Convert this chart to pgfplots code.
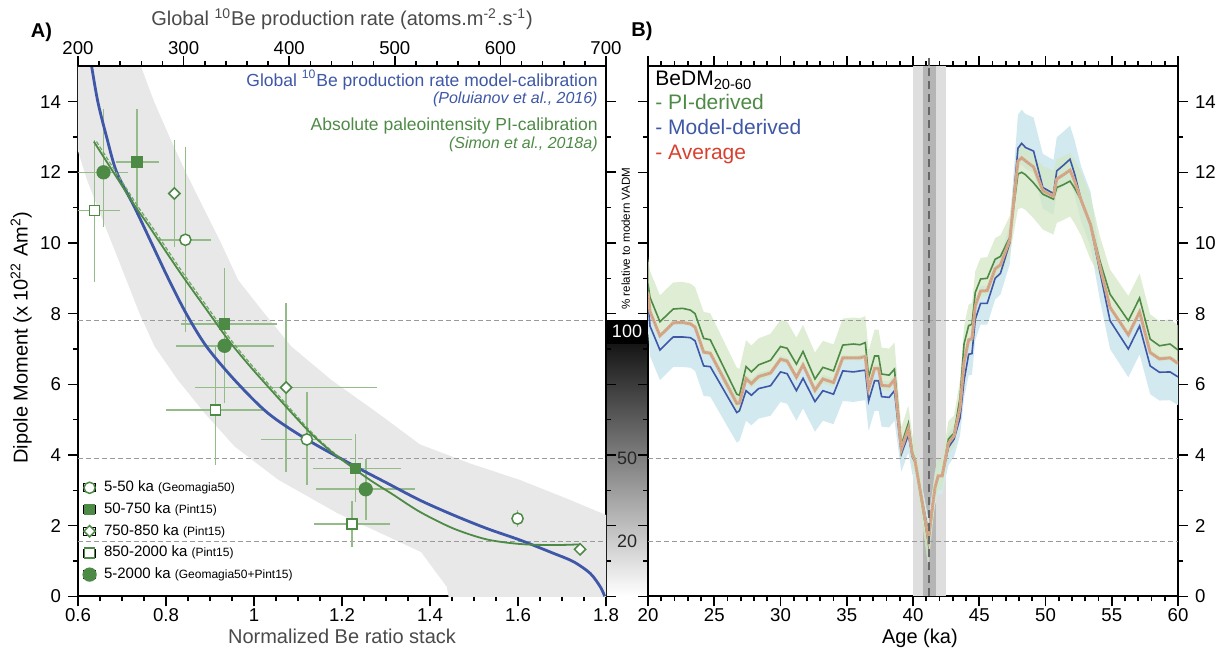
\documentclass[border=0pt]{standalone}
\usepackage{fontspec}
\setmainfont{Liberation Sans}
\usepackage{pgfplots}
\usepackage{pgfplotstable}
\pgfplotsset{compat=1.18}

\definecolor{pgreen}{HTML}{4D8A45}
\definecolor{ebgreen}{HTML}{93BC89}
\definecolor{dgreen}{HTML}{6FA865}
\definecolor{pblue}{HTML}{3E57A6}
\definecolor{bandgray}{HTML}{E8E8E8}
\definecolor{pred}{HTML}{D8402E}
\definecolor{avgtan}{HTML}{D6A88A}
\definecolor{avgdot}{HTML}{C99479}
\definecolor{gband}{HTML}{D3E7C5}
\definecolor{bband}{HTML}{D2E9EF}
\definecolor{refgray}{HTML}{9A9A9A}
\definecolor{lgray}{HTML}{DEDEDE}
\definecolor{dgray}{HTML}{B5B5B5}
\definecolor{labgray}{HTML}{4A4A4A}

% BeDM 20-60 ka: PI-derived (g), model-derived (b), average (a)
\pgfplotstableread{
x g b a
20.0 8.85 8.35 8.60
20.15 8.46 7.65 8.06
20.9 7.77 6.97 7.37
21.9 8.13 7.34 7.74
22.6 8.15 7.34 7.75
23.2 8.10 7.32 7.71
23.55 8.00 7.23 7.62
24.2 7.30 6.52 6.91
24.7 7.26 6.50 6.88
26.7 5.72 5.20 5.46
26.9 5.69 5.25 5.47
27.4 6.50 5.82 6.16
27.8 6.35 5.69 6.02
28.35 6.55 5.88 6.22
29.25 6.68 5.96 6.32
30.0 7.07 6.35 6.71
30.5 7.02 6.30 6.66
31.2 6.57 5.82 6.20
31.7 6.93 6.17 6.55
32.6 6.15 5.51 5.83
33.2 6.48 5.82 6.15
34.0 6.38 5.72 6.05
34.7 7.11 6.38 6.75
35.5 7.14 6.35 6.75
36.0 7.12 6.38 6.75
36.4 7.18 6.40 6.79
36.65 6.20 5.53 5.87
37.1 6.80 6.10 6.45
37.4 6.80 6.10 6.45
37.63 6.29 5.65 5.97
38.2 6.26 5.63 5.95
38.6 6.43 5.82 6.13
39.12 4.28 4.03 4.16
39.65 4.90 4.57 4.74
39.95 4.07 3.95 4.01
40.15 3.88 3.80 3.84
41.16 1.48 1.80 1.64
41.66 3.08 3.08 3.08
41.9 3.41 3.40 3.41
42.2 3.41 3.40 3.41
42.67 4.45 4.21 4.33
43.1 4.62 4.45 4.54
43.55 5.63 5.05 5.34
43.85 7.14 6.10 6.62
44.2 7.66 6.85 7.26
44.45 7.70 6.87 7.29
44.7 8.60 7.84 8.22
45.1 8.98 8.29 8.64
45.6 9.00 8.29 8.65
46.2 9.54 9.00 9.27
46.6 9.62 9.14 9.38
47.3 10.16 10.00 10.08
47.92 11.95 12.68 12.32
48.2 12.00 12.82 12.41
48.5 11.93 12.70 12.32
49.1 11.70 12.60 12.15
49.8 11.38 11.57 11.48
50.6 11.24 11.40 11.32
50.85 11.57 12.04 11.81
51.35 11.65 12.20 11.93
51.85 11.75 12.37 12.06
52.2 11.55 11.95 11.75
52.7 11.20 11.20 11.20
53.4 10.53 10.50 10.52
54.1 9.50 9.20 9.35
54.87 8.55 7.80 8.18
56.25 7.80 7.00 7.40
57.1 8.44 7.65 8.05
57.9 7.28 6.52 6.90
58.6 7.09 6.34 6.72
59.4 7.14 6.35 6.75
60.0 6.97 6.21 6.59
}\tabBeDM

% model-derived uncertainty band: upper edge forward, lower edge backward
\pgfplotstableread{
x y
20.0 8.80
20.15 8.10
20.9 7.42
21.9 7.79
22.6 7.79
23.2 7.77
23.55 7.68
24.2 6.97
24.7 6.95
26.7 5.65
26.9 5.70
27.4 6.27
27.8 6.14
28.35 6.33
29.25 6.41
30.0 6.80
30.5 6.75
31.2 6.27
31.7 6.62
32.6 5.96
33.2 6.27
34.0 6.17
34.7 6.83
35.5 6.80
36.0 6.83
36.4 6.85
36.65 5.98
37.1 6.55
37.4 6.55
37.63 6.10
38.2 6.08
38.6 6.27
39.12 4.43
39.65 4.97
39.95 4.35
40.15 4.20
41.16 2.20
41.66 3.48
41.9 3.80
42.2 3.80
42.67 4.61
43.1 4.85
43.55 5.45
43.85 6.50
44.2 7.35
44.45 7.37
44.7 8.34
45.1 8.79
45.6 8.79
46.2 9.50
46.6 9.64
47.3 10.50
47.92 13.63
48.2 13.77
48.5 13.65
49.1 13.55
49.8 12.52
50.6 12.35
50.85 12.99
51.35 13.15
51.85 13.32
52.2 12.90
52.7 12.15
53.4 11.45
54.1 9.65
54.87 8.25
56.25 7.45
57.1 8.10
57.9 6.97
58.6 6.79
59.4 6.80
60.0 6.66
60.0 5.41
59.4 5.55
58.6 5.54
57.9 5.72
57.1 6.85
56.25 6.20
54.87 7.00
54.1 8.40
53.4 9.90
52.7 10.60
52.2 11.35
51.85 11.77
51.35 11.60
50.85 11.44
50.6 10.80
49.8 10.97
49.1 12.00
48.5 12.10
48.2 12.22
47.92 12.08
47.3 9.40
46.6 8.54
46.2 8.40
45.6 7.69
45.1 7.69
44.7 7.24
44.45 6.27
44.2 6.25
43.85 5.60
43.55 4.55
43.1 3.95
42.67 3.71
42.2 2.90
41.9 2.90
41.66 2.58
41.16 1.30
40.15 3.30
39.95 3.45
39.65 4.07
39.12 3.53
38.6 4.97
38.2 4.78
37.63 4.80
37.4 5.25
37.1 5.25
36.65 4.68
36.4 5.55
36.0 5.53
35.5 5.50
34.7 5.53
34.0 4.87
33.2 4.97
32.6 4.66
31.7 5.32
31.2 4.97
30.5 5.45
30.0 5.50
29.25 5.11
28.35 5.03
27.8 4.84
27.4 4.97
26.9 4.40
26.7 4.35
24.7 5.65
24.2 5.67
23.55 6.38
23.2 6.47
22.6 6.49
21.9 6.49
20.9 6.12
20.15 6.80
20.0 7.50
}\tabBband

% PI-derived uncertainty band: upper edge forward, lower edge backward
\pgfplotstableread{
x y
20.0 9.60
20.15 9.21
20.9 8.52
21.9 8.88
22.6 8.90
23.2 8.85
23.55 8.75
24.2 8.05
24.7 8.01
26.7 6.47
26.9 6.44
27.4 7.25
27.8 7.10
28.35 7.30
29.25 7.43
30.0 7.82
30.5 7.77
31.2 7.32
31.7 7.68
32.6 6.90
33.2 7.23
34.0 7.13
34.7 7.86
35.5 7.89
36.0 7.87
36.4 7.93
36.65 6.95
37.1 7.55
37.4 7.55
37.63 7.04
38.2 7.01
38.6 7.18
39.12 4.78
39.65 5.40
39.95 4.57
40.15 4.38
41.16 1.98
41.66 3.58
41.9 3.91
42.2 3.91
42.67 4.95
43.1 5.12
43.55 6.13
43.85 7.64
44.2 8.26
44.45 8.30
44.7 9.20
45.1 9.58
45.6 9.60
46.2 10.14
46.6 10.22
47.3 10.76
47.92 12.75
48.2 12.80
48.5 12.73
49.1 12.50
49.8 12.18
50.6 12.04
50.85 12.37
51.35 12.45
51.85 12.55
52.2 12.35
52.7 12.00
53.4 11.33
54.1 10.20
54.87 9.25
56.25 8.50
57.1 9.14
57.9 7.98
58.6 7.79
59.4 7.84
60.0 7.67
60.0 6.52
59.4 6.69
58.6 6.64
57.9 6.83
57.1 7.99
56.25 7.35
54.87 8.10
54.1 9.05
53.4 9.53
52.7 10.20
52.2 10.55
51.85 10.75
51.35 10.65
50.85 10.57
50.6 10.24
49.8 10.38
49.1 10.70
48.5 10.93
48.2 11.00
47.92 10.95
47.3 9.66
46.6 9.12
46.2 9.04
45.6 8.50
45.1 8.48
44.7 8.10
44.45 7.20
44.2 7.16
43.85 6.74
43.55 5.23
43.1 4.22
42.67 4.05
42.2 3.01
41.9 3.01
41.66 2.68
41.16 0.80
40.15 3.48
39.95 3.67
39.65 4.50
39.12 3.88
38.6 5.98
38.2 5.81
37.63 5.84
37.4 6.35
37.1 6.35
36.65 5.75
36.4 6.73
36.0 6.67
35.5 6.69
34.7 6.66
34.0 5.93
33.2 6.03
32.6 5.70
31.7 6.48
31.2 6.12
30.5 6.57
30.0 6.62
29.25 6.23
28.35 6.10
27.8 5.90
27.4 6.05
26.9 5.24
26.7 5.27
24.7 6.81
24.2 6.85
23.55 7.55
23.2 7.65
22.6 7.70
21.9 7.68
20.9 7.32
20.15 8.01
20.0 8.40
}\tabGband

% calibration points: x y x-minus x-plus y-minus y-plus
\pgfplotstableread{
x y xm xp ym yp
0.844 10.09 0.060 0.059 2.60 2.64
1.120 4.44 0.103 0.103 1.29 1.35
1.599 2.20 0 0 0.23 0.24
}\tabOC
\pgfplotstableread{
x y xm xp ym yp
0.734 12.29 0.047 0.050 1.50 1.51
0.933 7.70 0.100 0.120 1.60 1.60
1.231 3.62 0.097 0.104 0.94 0.97
}\tabFS
\pgfplotstableread{
x y xm xp ym yp
0.819 11.40 0 0 1.50 1.50
1.073 5.91 0.208 0.207 2.38 2.40
1.741 1.33 0 0 0 0
}\tabOD
\pgfplotstableread{
x y xm xp ym yp
0.638 10.92 0.060 0.058 2.02 1.98
0.912 5.27 0.112 0.114 1.55 1.84
1.223 2.04 0.087 0.085 0.64 0.66
}\tabOS
\pgfplotstableread{
x y xm xp ym yp
0.658 12.00 0.058 0.056 1.54 1.80
0.933 7.09 0.111 0.112 1.62 1.75
1.254 3.03 0.112 0.111 0.87 0.85
}\tabFC

\pgfplotsset{
  common/.style={
    scale only axis, anchor=south west,
    tick align=outside,
    major tick length=5pt, minor tick length=2.5pt,
    every tick/.style={black, line width=0.8pt},
    axis line style={line width=1pt},
    tick label style={font=\fontsize{9.3}{11}\selectfont},
    /pgf/number format/assume math mode=true,
    label style={font=\fontsize{10}{12}\selectfont},
  },
  ebars/.style={only marks, mark=none, forget plot,
    error bars/.cd, x dir=both, x explicit, y dir=both, y explicit,
    error mark=none, error bar style={color=ebgreen, line width=0.75pt, solid}},
  refline/.style={refgray, dash pattern=on 2.5pt off 1.5pt, line width=0.5pt, forget plot},
}

\begin{document}
\begin{tikzpicture}
\path[use as bounding box] (0,0) rectangle (612pt,324.5pt);

% grey scale bar: % relative to modern VADM
\shade[top color=black, bottom color=white] (303pt,26.35pt) rectangle (324pt,164.15pt);
\fill[black] (303pt,152.6pt) rectangle (324pt,164.15pt);

% ---------------- Panel A ----------------
\begin{axis}[common,
  at={(39pt,26.35pt)}, width=264pt, height=265pt,
  xmin=0.6, xmax=1.8, ymin=0, ymax=15,
  xtick={0.6,0.8,1,1.2,1.4,1.6,1.8}, minor x tick num=3,
  ytick={0,2,4,6,8,10,12,14}, minor y tick num=1,
  xtick pos=bottom, ytick pos=both, yticklabel pos=left,
  xticklabel style={yshift=2.5pt},
  xlabel={Normalized Be ratio stack},
  xlabel style={at={(axis description cs:0.5,-0.0755)}, anchor=center, text=labgray},
  ylabel={Dipole Moment (x 10\textsuperscript{22} Am\textsuperscript{2})},
  ylabel style={at={(axis description cs:-0.1078,0.4883)}, anchor=center},
  legend cell align=left,
  legend image code/.code={\path (-3pt,-2pt) rectangle (3pt,2pt); \draw[#1] plot coordinates {(0pt,0pt)};},
  legend style={at={(axis description cs:0.0091,0.027)}, anchor=south west,
    draw=none, fill=none, inner sep=0pt, row sep=3.85pt, column sep=4pt,
    font=\fontsize{7.5}{8}\selectfont,
    nodes={inner sep=0pt, text height=5.4pt, text depth=1.6pt}},
]
% calibration uncertainty envelope
\addplot[fill=bandgray, draw=none, forget plot] coordinates {
 (0.735,15.3) (0.743,15) (0.773,14) (0.808,13) (0.845,12) (0.885,11) (0.925,10)
 (0.964,8.95) (1.024,8.0) (1.085,7.07) (1.176,6.12) (1.282,5.18) (1.377,4.3)
 (1.491,3.76) (1.605,3.29) (1.718,2.73) (1.8,2.3) (1.85,2.1) (1.85,-0.5) (1.445,-0.5)
 (1.442,0) (1.438,0.27) (1.41,0.74) (1.38,1.25) (1.32,1.6) (1.19,2.35) (1.055,3.3)
 (0.956,4.24) (0.888,5.18) (0.827,6.12) (0.774,7.07) (0.74,8.0) (0.71,8.95)
 (0.68,9.9) (0.648,10.9) (0.62,11.8) (0.6,12.6) (0.55,14.5) (0.55,15.3)} -- cycle;
\addplot[refline] coordinates {(0.6,7.8) (1.8,7.8)};
\addplot[refline] coordinates {(0.6,3.9) (1.8,3.9)};
\addplot[refline] coordinates {(0.6,1.56) (1.8,1.56)};
% error bars
\addplot[ebars] table[x=x,y=y,x error plus=xp,x error minus=xm,y error plus=yp,y error minus=ym]{\tabOC};
\addplot[ebars] table[x=x,y=y,x error plus=xp,x error minus=xm,y error plus=yp,y error minus=ym]{\tabFS};
\addplot[ebars] table[x=x,y=y,x error plus=xp,x error minus=xm,y error plus=yp,y error minus=ym]{\tabOD};
\addplot[ebars] table[x=x,y=y,x error plus=xp,x error minus=xm,y error plus=yp,y error minus=ym]{\tabOS};
\addplot[ebars] table[x=x,y=y,x error plus=xp,x error minus=xm,y error plus=yp,y error minus=ym]{\tabFC};
% model calibration (blue)
\addplot[pblue, line width=1.4pt, smooth, forget plot] coordinates {
 (0.631,15) (0.645,14) (0.665,13) (0.688,12) (0.729,11) (0.767,10) (0.805,9)
 (0.846,8) (0.892,7.07) (0.956,6.12) (1.032,5.18) (1.12,4.44) (1.231,3.67)
 (1.30,3.22) (1.377,2.72) (1.453,2.30) (1.529,1.92) (1.605,1.59) (1.68,1.22)
 (1.726,0.98) (1.764,0.65) (1.787,0.27) (1.797,0)};
% PI calibration (green)
\addplot[dgreen, line width=0.6pt, dash pattern=on 2pt off 1pt, smooth, forget plot] coordinates {
 (0.642,12.87) (0.706,11.62) (0.739,10.98) (0.766,10.5) (0.836,9.2) (0.896,8.15)
 (0.951,7.2) (1.001,6.45) (1.044,5.85) (1.09,5.2) (1.134,4.6) (1.178,4.1) (1.221,3.67)};
\addplot[pgreen, line width=0.9pt, smooth, forget plot] coordinates {
 (0.636,12.87) (0.70,11.62) (0.733,10.98) (0.76,10.5) (0.83,9.2) (0.89,8.15)
 (0.945,7.2) (0.995,6.45) (1.038,5.85) (1.085,5.2) (1.13,4.6) (1.175,4.1)
 (1.221,3.67) (1.265,3.28) (1.312,2.91) (1.377,2.39) (1.453,1.92) (1.529,1.61)
 (1.605,1.48) (1.68,1.45) (1.741,1.47)};
% markers
\addplot[only marks, mark=*, mark size=2.8pt, mark options={solid, draw=pgreen, fill=white, line width=0.75pt}] table[x=x,y=y]{\tabOC};
\addlegendentry{5-50 ka {\fontsize{6}{7}\selectfont(Geomagia50)}}
\addplot[only marks, mark=square*, mark size=2.5pt, mark options={solid, draw=pgreen, fill=pgreen, line width=0.75pt}] table[x=x,y=y]{\tabFS};
\addlegendentry{50-750 ka {\fontsize{6}{7}\selectfont(Pint15)}}
\addplot[only marks, mark=square*, mark size=2pt, mark options={solid, rotate=45, draw=pgreen, fill=white, line width=0.75pt}] table[x=x,y=y]{\tabOD};
\addlegendentry{750-850 ka {\fontsize{6}{7}\selectfont(Pint15)}}
\addplot[only marks, mark=square*, mark size=2.5pt, mark options={solid, draw=pgreen, fill=white, line width=0.75pt}] table[x=x,y=y]{\tabOS};
\addlegendentry{850-2000 ka {\fontsize{6}{7}\selectfont(Pint15)}}
\addplot[only marks, mark=*, mark size=3.2pt, mark options={solid, draw=pgreen, fill=pgreen, line width=0.75pt}] table[x=x,y=y]{\tabFC};
\addlegendentry{5-2000 ka {\fontsize{6}{7}\selectfont(Geomagia50+Pint15)}}
\end{axis}

% top axis: global 10Be production rate
\begin{axis}[common,
  at={(39pt,26.35pt)}, width=264pt, height=265pt,
  xmin=200, xmax=700, ymin=0, ymax=15,
  axis x line*=top, axis y line=none,
  xtick={200,300,400,500,600,700}, minor x tick num=4,
  xticklabel style={yshift=-2.8pt},
  xlabel={Global \textsuperscript{10}Be production rate (atoms.m\textsuperscript{-2}.s\textsuperscript{-1})},
  xlabel style={at={(axis description cs:0.5,1.0883)}, anchor=center, text=labgray},
]
\addplot[draw=none, forget plot] coordinates {(200,0) (700,15)};
\end{axis}

% ---------------- Panel B ----------------
\begin{axis}[common,
  at={(324pt,26.35pt)}, width=265pt, height=265pt,
  xmin=20, xmax=60, ymin=0, ymax=15,
  xtick={20,25,30,35,40,45,50,55,60}, minor x tick num=4,
  ytick={0,2,4,6,8,10,12,14}, minor y tick num=1,
  xtick pos=both, ytick pos=both, yticklabel pos=right,
  xticklabel style={yshift=2.5pt},
  xlabel={Age (ka)},
  xlabel style={at={(axis description cs:0.513,-0.079)}, anchor=center},
]
\addplot[fill=lgray, draw=none, forget plot] coordinates {(40,0) (40,15) (42.5,15) (42.5,0)} -- cycle;
\addplot[fill=dgray, draw=none, forget plot] coordinates {(40.75,0) (40.75,15) (41.75,15) (41.75,0)} -- cycle;
\addplot[fill=bband, draw=none, forget plot] table[x=x,y=y]{\tabBband} -- cycle;
\addplot[fill=gband, fill opacity=0.75, draw=none, forget plot] table[x=x,y=y]{\tabGband} -- cycle;
\addplot[refline] coordinates {(20,7.8) (60,7.8)};
\addplot[refline] coordinates {(20,3.9) (60,3.9)};
\addplot[refline] coordinates {(20,1.56) (60,1.56)};
\addplot[pgreen, line width=0.8pt, forget plot] table[x=x,y=g]{\tabBeDM};
\addplot[pblue, line width=0.8pt, forget plot] table[x=x,y=b]{\tabBeDM};
\addplot[avgtan, line width=1.5pt, forget plot] table[x=x,y=a]{\tabBeDM};
\addplot[avgdot, line width=0.4pt, densely dotted, forget plot] table[x=x,y=a]{\tabBeDM};
\addplot[black!60, dash pattern=on 4pt off 2.5pt, line width=0.9pt, forget plot] coordinates {(41.2,0) (41.2,15)};
\end{axis}
\draw[black!60, dash pattern=on 4pt off 2.5pt, line width=0.9pt] (464.45pt,291.35pt) -- (464.45pt,297.5pt);

% panel letters
\node[font=\bfseries\fontsize{10}{12}\selectfont] at (20.75pt,308.25pt) {A)};
\node[font=\bfseries\fontsize{10}{12}\selectfont] at (321pt,308.75pt) {B)};

% panel A annotations
\node[anchor=base east, text=pblue, font=\fontsize{8.75}{10}\selectfont, inner sep=0pt] at (299pt,281.25pt) {Global \textsuperscript{10}Be production rate model-calibration};
\node[anchor=base east, text=pblue, font=\itshape\fontsize{8}{10}\selectfont, inner sep=0pt] at (299pt,272.5pt) {(Poluianov et al., 2016)};
\node[anchor=base east, text=pgreen, font=\fontsize{8.75}{10}\selectfont, inner sep=0pt] at (299pt,259.25pt) {Absolute paleointensity PI-calibration};
\node[anchor=base east, text=pgreen, font=\itshape\fontsize{8}{10}\selectfont, inner sep=0pt] at (299pt,250pt) {(Simon et al., 2018a)};

% scale bar labels
\node[text=white, font=\fontsize{9}{10}\selectfont] at (313.5pt,158.8pt) {100};
\node[text=black!85, font=\fontsize{9}{10}\selectfont] at (313.5pt,95.5pt) {50};
\node[text=black!85, font=\fontsize{9}{10}\selectfont] at (313.5pt,54pt) {20};
\node[rotate=90, anchor=west, font=\fontsize{5.8}{7}\selectfont, inner sep=0pt] at (312.9pt,169.5pt) {\% relative to modern VADM};

% panel B legend
\node[anchor=base west, inner sep=0pt, font=\fontsize{10.5}{12}\selectfont] at (327.5pt,281.5pt) {BeDM\textsubscript{20-60}};
\node[anchor=base west, inner sep=0pt, text=pgreen, font=\fontsize{10.5}{12}\selectfont] at (327.5pt,269.5pt) {- PI-derived};
\node[anchor=base west, inner sep=0pt, text=pblue, font=\fontsize{10.5}{12}\selectfont] at (327.5pt,257pt) {- Model-derived};
\node[anchor=base west, inner sep=0pt, text=pred, font=\fontsize{10.5}{12}\selectfont] at (327.5pt,244.85pt) {- Average};
\end{tikzpicture}
\end{document}
